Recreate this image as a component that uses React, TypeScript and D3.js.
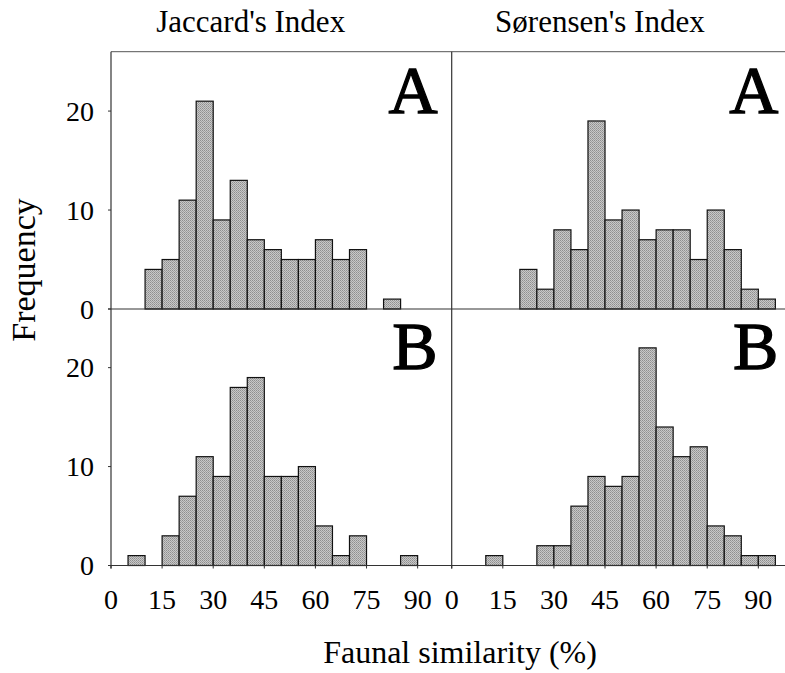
import React, { useEffect, useRef } from 'react';
import * as d3 from 'd3';

// bin starts (%), each bin is 5 wide
const binStarts = [0, 5, 10, 15, 20, 25, 30, 35, 40, 45, 50, 55, 60, 65, 70, 75, 80, 85, 90, 95];

const jaccardA = [0, 0, 4, 5, 11, 21, 9, 13, 7, 6, 5, 5, 7, 5, 6, 0, 1, 0, 0, 0];
const sorensenA = [0, 0, 0, 0, 4, 2, 8, 6, 19, 9, 10, 7, 8, 8, 5, 10, 6, 2, 1, 0];
const jaccardB = [0, 1, 0, 3, 7, 11, 9, 18, 19, 9, 9, 10, 4, 1, 3, 0, 0, 1, 0, 0];
const sorensenB = [0, 0, 1, 0, 0, 2, 2, 6, 9, 8, 9, 22, 14, 11, 12, 4, 3, 1, 1, 0];

const xTicks = [0, 15, 30, 45, 60, 75, 90];
const yTicks = [0, 10, 20];
const columnTitles = ["Jaccard's Index", "Sørensen's Index"];
const rowLetters = ['A', 'B'];

const App = () => {
  const ref = useRef<SVGSVGElement>(null);

  useEffect(() => {
    const svg = d3.select(ref.current);
    const font = '"Liberation Serif", "Times New Roman", serif';
    const binWidth = 5;

    const xLeft = d3.scaleLinear().domain([0, 100]).range([111, 451.7]);
    const xRight = d3.scaleLinear().domain([0, 100]).range([451.7, 792.4]);
    const yTop = d3.scaleLinear().domain([0, 26]).range([309, 51.7]);
    const yBot = d3.scaleLinear().domain([0, 26]).range([565.5, 308.3]);

    // halftone-ish gray fill like the scanned figure
    const defs = svg.append('defs');
    const pat = defs.append('pattern')
      .attr('id', 'dots')
      .attr('width', 2)
      .attr('height', 2)
      .attr('patternUnits', 'userSpaceOnUse');
    pat.append('rect').attr('width', 2).attr('height', 2).attr('fill', '#c8c8c8');
    pat.append('rect').attr('width', 1).attr('height', 1).attr('fill', '#8f8f8f');
    pat.append('rect').attr('x', 1).attr('y', 1).attr('width', 1).attr('height', 1).attr('fill', '#a0a0a0');

    const panels = [
      { x: xLeft, y: yTop, counts: jaccardA, letter: rowLetters[0] },
      { x: xRight, y: yTop, counts: sorensenA, letter: rowLetters[0] },
      { x: xLeft, y: yBot, counts: jaccardB, letter: rowLetters[1] },
      { x: xRight, y: yBot, counts: sorensenB, letter: rowLetters[1] },
    ];

    const g = svg.append('g');

    panels.forEach((p) => {
      const bins = binStarts.map((b, i) => ({ start: b, count: p.counts[i] })).filter(d => d.count > 0);
      g.append('g')
        .selectAll('rect')
        .data(bins)
        .enter().append('rect')
        .attr('x', d => p.x(d.start))
        .attr('y', d => p.y(d.count))
        .attr('width', d => p.x(d.start + binWidth) - p.x(d.start))
        .attr('height', d => p.y(0) - p.y(d.count))
        .attr('fill', 'url(#dots)')
        .attr('stroke', '#111')
        .attr('stroke-width', 1.2);

      // big panel letter (scan makes it heavy, so add a thin stroke)
      g.append('text')
        .attr('x', p.x(100) - 14)
        .attr('y', p.y(26) + 61)
        .attr('text-anchor', 'end')
        .style('font-family', font)
        .style('font-size', '68px')
        .style('fill', '#000')
        .style('stroke', '#000')
        .style('stroke-width', 1.3)
        .text(p.letter);
    });

    const axisColor = '#333';

    // frame lines
    g.append('line')
      .attr('x1', xLeft(0)).attr('x2', 785)
      .attr('y1', yTop(26)).attr('y2', yTop(26))
      .attr('stroke', '#555').attr('stroke-width', 1);
    g.append('line')
      .attr('x1', xLeft(0) - 3).attr('x2', 785)
      .attr('y1', yTop(0)).attr('y2', yTop(0))
      .attr('stroke', axisColor).attr('stroke-width', 1.2);
    g.append('line')
      .attr('x1', xLeft(0) - 3).attr('x2', 785)
      .attr('y1', yBot(0)).attr('y2', yBot(0))
      .attr('stroke', axisColor).attr('stroke-width', 1.2);
    [xLeft(0), xRight(0)].forEach((px) => {
      g.append('line')
        .attr('x1', px).attr('x2', px)
        .attr('y1', yTop(26)).attr('y2', yBot(0) + 3)
        .attr('stroke', axisColor).attr('stroke-width', 1.2);
    });

    // y ticks + labels (left side only)
    [yTop, yBot].forEach((y) => {
      g.append('g').selectAll('line')
        .data(yTicks)
        .enter().append('line')
        .attr('x1', xLeft(0) - 3).attr('x2', xLeft(0))
        .attr('y1', d => y(d)).attr('y2', d => y(d))
        .attr('stroke', axisColor);
      g.append('g').selectAll('text')
        .data(yTicks)
        .enter().append('text')
        .attr('x', 94)
        .attr('y', d => y(d))
        .attr('dy', '0.34em')
        .attr('text-anchor', 'end')
        .style('font-family', font)
        .style('font-size', '28px')
        .text(d => d);
    });

    // x ticks + labels
    [xLeft, xRight].forEach((x) => {
      g.append('g').selectAll('line')
        .data(xTicks)
        .enter().append('line')
        .attr('x1', d => x(d)).attr('x2', d => x(d))
        .attr('y1', yBot(0)).attr('y2', yBot(0) + 3)
        .attr('stroke', axisColor);
      g.append('g').selectAll('text')
        .data(xTicks)
        .enter().append('text')
        .attr('x', d => x(d))
        .attr('y', 609)
        .attr('text-anchor', 'middle')
        .style('font-family', font)
        .style('font-size', '28px')
        .text(d => d);
    });

    // column titles
    [{ x: xLeft(41), t: columnTitles[0] }, { x: xRight(43.5), t: columnTitles[1] }].forEach((c) => {
      g.append('text')
        .attr('x', c.x)
        .attr('y', 32)
        .attr('text-anchor', 'middle')
        .style('font-family', font)
        .style('font-size', '31px')
        .text(c.t);
    });

    // axis titles
    g.append('text')
      .attr('x', 460)
      .attr('y', 663)
      .attr('text-anchor', 'middle')
      .style('font-family', font)
      .style('font-size', '32px')
      .text('Faunal similarity (%)');

    g.append('text')
      .attr('transform', 'translate(35,270) rotate(-90)')
      .attr('text-anchor', 'middle')
      .style('font-family', font)
      .style('font-size', '34px')
      .text('Frequency');

    return () => {
      svg.selectAll('*').remove();
    };
  }, []);

  return (
    <svg
      ref={ref}
      width={785}
      height={673}
      style={{ position: 'absolute', left: 0, top: 0, background: '#fff' }}
    />
  );
};

export default App;
